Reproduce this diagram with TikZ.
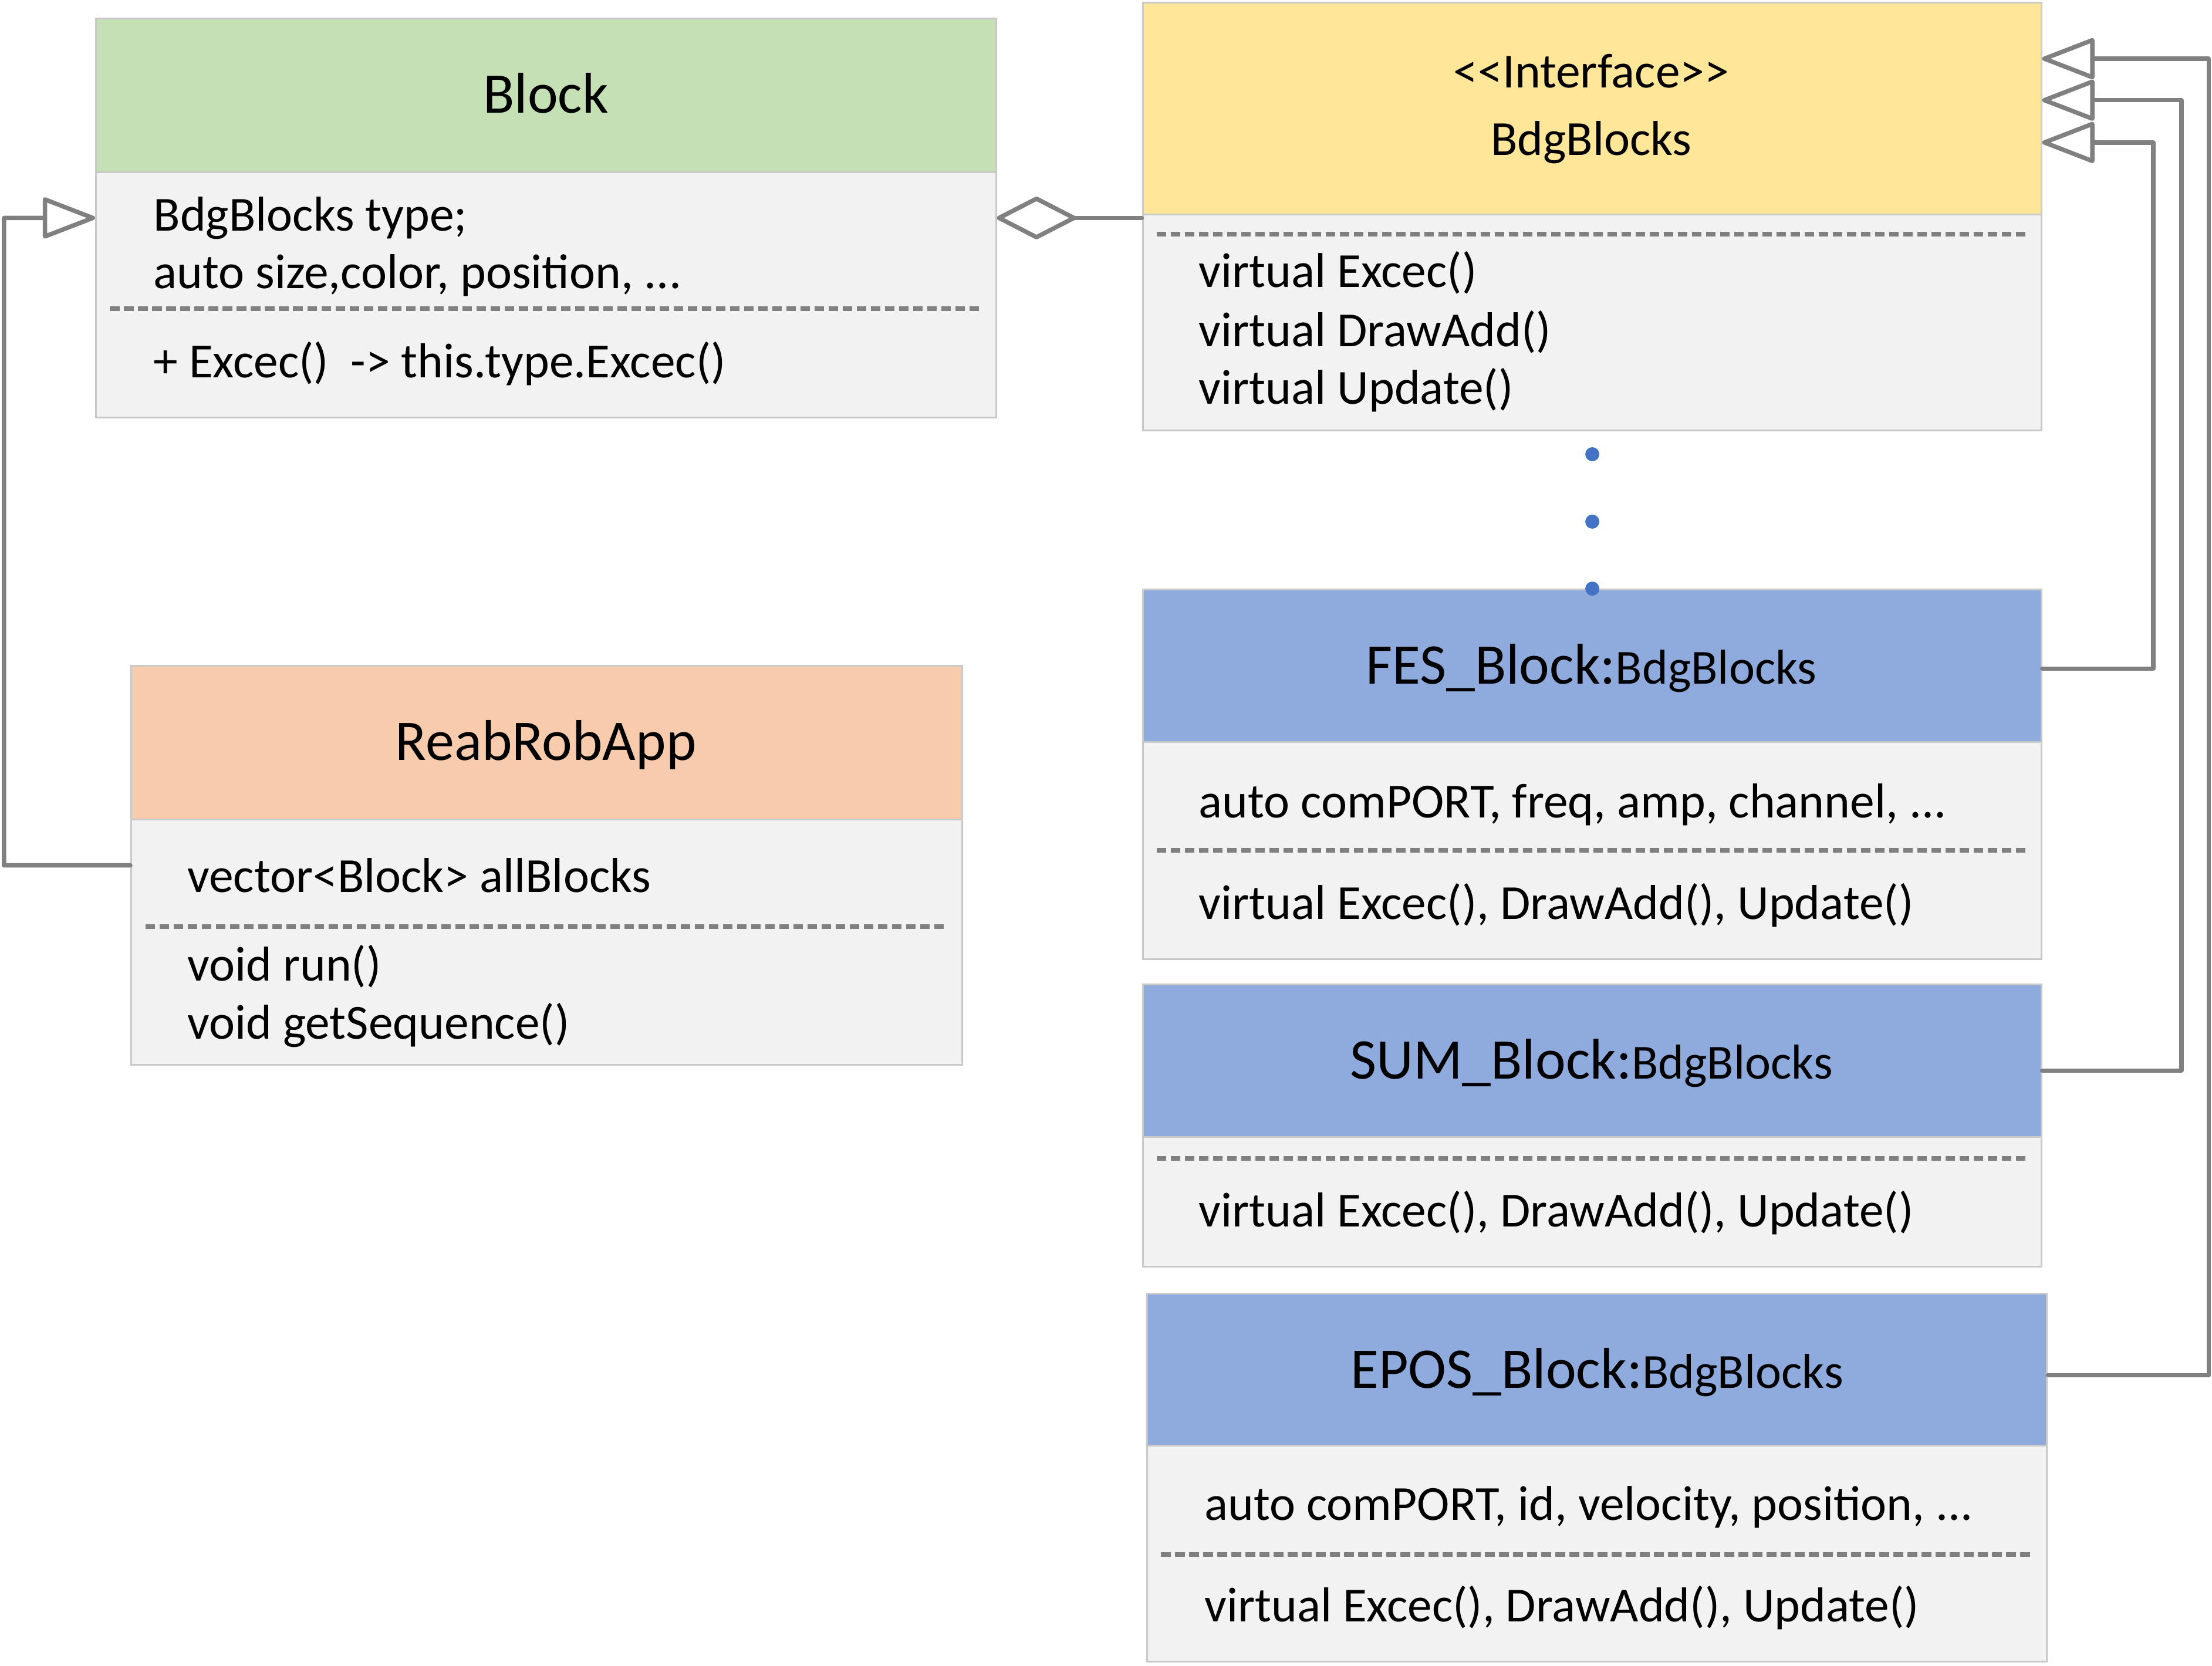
\documentclass[tikz,border=0pt]{standalone}
\usepackage{fontspec}
\setmainfont{Carlito}
\usetikzlibrary{arrows.meta,fit,calc}

\definecolor{hdgreen}{HTML}{C5E0B4}
\definecolor{hdyellow}{HTML}{FFE699}
\definecolor{hdblue}{HTML}{8FAADC}
\definecolor{hdorange}{HTML}{F8CBAD}
\definecolor{bodygrey}{HTML}{F2F2F2}
\definecolor{edgegrey}{HTML}{C9C9C9}
\definecolor{linegrey}{HTML}{808080}
\definecolor{dotblue}{HTML}{4472C4}

% member text size, also used for the type suffix in the titles
\newcommand\membersize{\fontsize{8.35pt}{10pt}\selectfont}

\begin{document}
\begin{tikzpicture}[x=0.24037pt,y=-0.24037pt,
  box/.style={fit={#1},inner sep=0pt,draw=edgegrey,line width=0.3pt,fill=bodygrey},
  head/.style={inner sep=0pt,draw=edgegrey,line width=0.3pt},
  title/.style={anchor=base,inner sep=0pt,font=\fontsize{9.8pt}{11.8pt}\selectfont},
  member/.style={anchor=base west,inner sep=0pt,font=\membersize},
  sep/.style={draw=linegrey,line width=0.8pt,dash pattern=on 1.63pt off 0.77pt},
  link/.style={draw=linegrey,line width=0.75pt,line cap=round,line join=round},
  inherit/.style={link,-{Triangle[open,length=9.6pt,width=7.2pt,round]}},
  aggregate/.style={link,-{Diamond[open,length=14.4pt,width=7.4pt,round]}},
  dot/.style={circle,fill=dotblue,inner sep=0pt,minimum size=2.4pt}]

\useasboundingbox (0,0) rectangle (1568,1181);

% ---------- Block ----------
\node[box={(68,13) (706,296)}] (block) {};
\node[head,fill=hdgreen,fit={(68,13) (706,122)}] (blockH) {};
\node[title] (blockT) at (387,80) {Block};
\node[member] (blockA1) at (108,163.5) {BdgBlocks type;};
\node[member] (blockA2) at (108,204.5) {auto size,color, position, ...};
\draw[sep] (78,219) -- (697,219);
\node[member] (blockM1) at (108,267.5) {+ Excec()\ \ -> this.type.Excec()};

% ---------- Interface BdgBlocks ----------
\node[box={(810,2) (1447,305)}] (iface) {};
\node[head,fill=hdyellow,fit={(810,2) (1447,152)}] (ifaceH) {};
\node[member,anchor=base] (ifaceS) at (1128,62) {{<}{<}Interface{>}{>}};
\node[member,anchor=base] (ifaceT) at (1128,110) {BdgBlocks};
\draw[sep] (820,166) -- (1438,166);
\node[member] (ifaceM1) at (849,203.5) {virtual Excec()};
\node[member] (ifaceM2) at (849,245.5) {virtual DrawAdd()};
\node[member] (ifaceM3) at (849,286.5) {virtual Update()};

% ---------- FES_Block ----------
\node[box={(810,418) (1447,680)}] (fes) {};
\node[head,fill=hdblue,fit={(810,418) (1447,526)}] (fesH) {};
\node[title] (fesT) at (1128,485) {FES\_Block:{\membersize BdgBlocks}};
\node[member] (fesA1) at (849,579.5) {auto comPORT, freq, amp, channel, ...};
\draw[sep] (820,603) -- (1438,603);
\node[member] (fesM1) at (849,651.5) {virtual Excec(), DrawAdd(), Update()};

% ---------- SUM_Block ----------
\node[box={(810,698) (1447,898)}] (sum) {};
\node[head,fill=hdblue,fit={(810,698) (1447,806)}] (sumH) {};
\node[title] (sumT) at (1128,765) {SUM\_Block:{\membersize BdgBlocks}};
\draw[sep] (820,821) -- (1438,821);
\node[member] (sumM1) at (849,869.5) {virtual Excec(), DrawAdd(), Update()};

% ---------- EPOS_Block ----------
\node[box={(813,917) (1451,1178)}] (epos) {};
\node[head,fill=hdblue,fit={(813,917) (1451,1025)}] (eposH) {};
\node[title] (eposT) at (1132,984) {EPOS\_Block:{\membersize BdgBlocks}};
\node[member] (eposA1) at (853,1077.5) {auto comPORT, id, velocity, position, ...};
\draw[sep] (823,1102) -- (1442,1102);
\node[member] (eposM1) at (853,1149.5) {virtual Excec(), DrawAdd(), Update()};

% ---------- ReabRobApp ----------
\node[box={(93,472) (682,755)}] (app) {};
\node[head,fill=hdorange,fit={(93,472) (682,581)}] (appH) {};
\node[title] (appT) at (387,539) {ReabRobApp};
\node[member] (appA1) at (132,632.5) {vector<Block> allBlocks};
\draw[sep] (103,657) -- (671,657);
\node[member] (appM1) at (132,695.5) {void run()};
\node[member] (appM2) at (132,736.5) {void getSequence()};

% ---------- ellipsis between the interface and its implementations ----------
\node[dot] (d1) at (1128.7,322) {};
\node[dot] (d2) at (1128.7,369.8) {};
\node[dot] (d3) at (1128.7,417.3) {};

% ---------- relations ----------
\coordinate (appBend) at (2.9,613.5);
\draw[inherit] (app.west) -- (appBend) |- (block.west);

\draw[aggregate] (iface.west |- block.east) -- (block.east);

\coordinate (fesOut) at ($(fesH.east)+(0,2)$);
\coordinate (sumOut) at ($(sumH.east)+(0,7)$);
\coordinate (eposOut) at ($(eposH.east)+(0,4)$);
\coordinate (fesIn) at ($(ifaceH.east)+(0,24)$);
\coordinate (sumIn) at ($(ifaceH.east)+(0,-6)$);
\coordinate (eposIn) at ($(ifaceH.east)+(0,-35.4)$);

\draw[inherit] (fesOut) -- (1526.4,0 |- fesOut) |- (fesIn);
\draw[inherit] (sumOut) -- (1546.3,0 |- sumOut) |- (sumIn);
\draw[inherit] (eposOut) -- (1565.6,0 |- eposOut) |- (eposIn);

\end{tikzpicture}
\end{document}
